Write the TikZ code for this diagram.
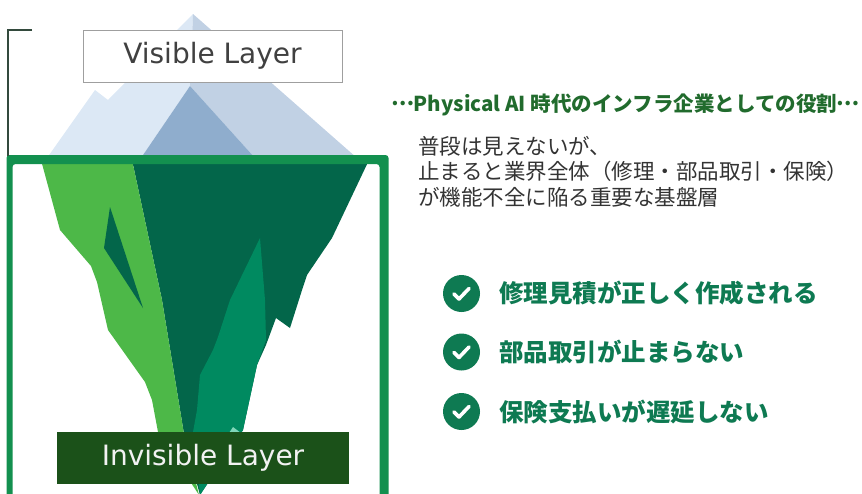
\documentclass[tikz,border=0pt]{standalone}
\usepackage{fontspec}
\newfontfamily\jpfont{Noto Sans CJK JP}
\newfontfamily\labelfont{DejaVu Sans}
\definecolor{iceA}{HTML}{DCE8F5}
\definecolor{iceB}{HTML}{C1D1E4}
\definecolor{iceC}{HTML}{8FADCD}
\definecolor{leafgreen}{HTML}{4DB848}
\definecolor{deepgreen}{HTML}{03664A}
\definecolor{midgreen}{HTML}{008A60}
\definecolor{mintgreen}{HTML}{7FD6B8}
\definecolor{framegreen}{HTML}{13904F}
\definecolor{boxgreen}{HTML}{1B5119}
\definecolor{bracketcol}{HTML}{334A3D}
\definecolor{titlegreen}{HTML}{216B2D}
\definecolor{checkgreen}{HTML}{0E7A52}
\definecolor{bodygray}{HTML}{333333}
% full-width, vertically centred ellipsis
\newcommand{\midellipsis}{\makebox[1.05em][c]{\raisebox{0.27em}{…}}}
\tikzset{
  layerbox/.style={minimum width=259pt, minimum height=52pt, inner sep=0pt,
    font=\labelfont\fontsize{28}{32}\selectfont},
  checkcirc/.style={circle, fill=checkgreen, minimum size=37pt, inner sep=0pt},
  checkmark/.style={white, line width=3.6pt, line cap=round, line join=round},
  itemtext/.style={anchor=west, inner sep=0pt, text=checkgreen,
    font=\jpfont\bfseries\fontsize{24.5}{28}\selectfont},
  bodytext/.style={anchor=north west, inner sep=0pt, text=bodygray, align=left,
    font=\jpfont\fontsize{21.5}{25.5}\selectfont},
}
\begin{document}
\begin{tikzpicture}[x=1pt, y=-1pt]
\path[use as bounding box] (0,0) rectangle (862,493);
\clip (0,0) rectangle (862,493);

% tip of the iceberg above the waterline
\fill[iceA] (193,14) -- (190,86) -- (141,158) -- (47,158) -- (95,90) -- (108,100) -- cycle;
\fill[iceB] (193,14) -- (357,158) -- (255,158) -- (190,86) -- cycle;
\fill[iceC] (190,86) -- (255,158) -- (141,158) -- cycle;

% submerged body
\fill[deepgreen] (132,160) -- (369,160) -- (332,238) -- (307,275) -- (303,287)
  -- (290,328) -- (276,318) -- (266,345) -- (257,365) -- (243,430) -- (200,495)
  -- (185,440) -- (162,300) -- cycle;
\fill[leafgreen] (41,160) -- (132,160) -- (162,300) -- (185,440) -- (199,495)
  -- (158,432) -- (152,400) -- (145,382) -- (108,330) -- (97,282) -- (91,266)
  -- (60,230) -- cycle;
\fill[deepgreen] (110,207) -- (104,248) -- (143,308) -- cycle;
\fill[midgreen] (260,238) -- (265,300) -- (266,340) -- (257,365) -- (243,430)
  -- (200,495) -- (193,432) -- (197,410) -- (200,375) -- (213,350) -- (218,337)
  -- (230,300) -- cycle;
\fill[mintgreen] (229,433) -- (233,427) -- (241,433) -- cycle;

% waterline frame
\fill[framegreen, even odd rule, rounded corners=3pt]
  (6.5,155) rectangle (388.5,520) (12.5,164) rectangle (379.5,520);

% bracket on the left
\coordinate (brtop) at (32,30);
\coordinate (brbottom) at (8,156);
\draw[bracketcol, line width=1.5pt] (brtop) -- (8,30) -- (brbottom);

% layer labels
\node[layerbox, draw=gray!75, line width=1pt, fill=white, text=black!75]
  (visible) at (212.5,56) {Visible Layer};
\node[layerbox, minimum width=292pt, fill=boxgreen, text=white!95!black]
  (invisible) at (203,458) {Invisible Layer};

% heading and description
\node[anchor=west, inner sep=0pt, text=titlegreen,
  font=\jpfont\bfseries\fontsize{20.5}{23}\selectfont]
  (title) at (392,104.5) {\midellipsis Physical AI 時代のインフラ企業としての役割\midellipsis};
\node[bodytext] (body) at (418,136)
  {普段は見えないが、\\止まると業界全体（修理・部品取引・保険）\\が機能不全に陥る重要な基盤層};

% check list
\foreach \i/\y/\txt in {1/293.5/修理見積が正しく作成される,
                        2/352/部品取引が止まらない,
                        3/411.5/保険支払いが遅延しない}{
  \node[checkcirc] (c\i) at (461.5,\y) {};
  \draw[checkmark] ([shift={(-7.5,0.5)}]c\i.center) -- ([shift={(-2.5,5.5)}]c\i.center)
    -- ([shift={(7.5,-5)}]c\i.center);
  \node[itemtext] (t\i) at (499,\y) {\txt};
}
\end{tikzpicture}
\end{document}
